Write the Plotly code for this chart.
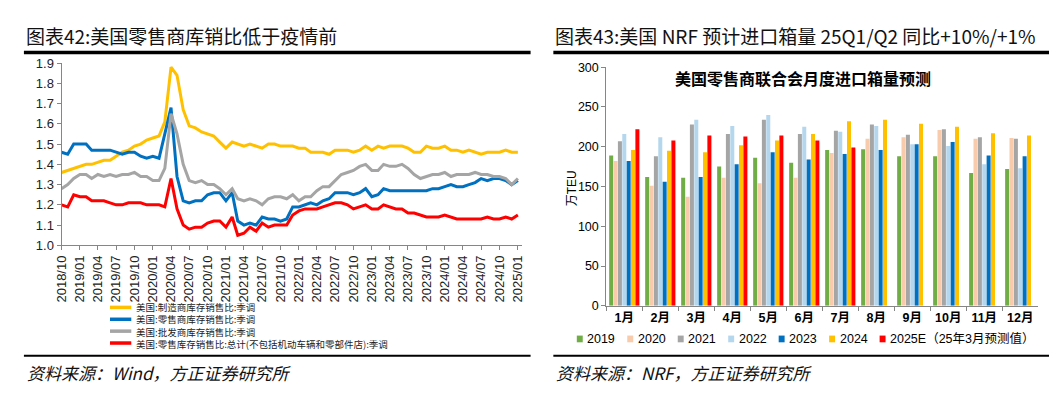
import plotly.graph_objects as go
import pandas as pd

W, H = 1057, 393

# ---------------- Left chart data (monthly, 2018/10 - 2025/01) ----------------
start_month = "2018-10-01"
manufacturing = [1.36, 1.37, 1.38, 1.39, 1.40, 1.40, 1.41, 1.42, 1.42, 1.44, 1.46, 1.47, 1.49, 1.50, 1.52, 1.53,
                 1.54, 1.61, 1.88, 1.84, 1.67, 1.59, 1.58, 1.56, 1.55, 1.54, 1.51, 1.48, 1.51, 1.50, 1.49, 1.50,
                 1.49, 1.48, 1.50, 1.50, 1.49, 1.49, 1.49, 1.48, 1.48, 1.46, 1.46, 1.46, 1.45, 1.47, 1.47, 1.47,
                 1.46, 1.47, 1.49, 1.47, 1.49, 1.48, 1.49, 1.49, 1.49, 1.48, 1.46, 1.46, 1.49, 1.48, 1.48, 1.49,
                 1.47, 1.47, 1.46, 1.47, 1.46, 1.45, 1.46, 1.46, 1.46, 1.47, 1.46, 1.46]
retail = [1.46, 1.45, 1.50, 1.50, 1.50, 1.47, 1.47, 1.47, 1.47, 1.46, 1.45, 1.46, 1.46, 1.44, 1.43, 1.44,
          1.43, 1.55, 1.68, 1.34, 1.22, 1.21, 1.22, 1.22, 1.25, 1.26, 1.26, 1.22, 1.26, 1.12, 1.10, 1.11,
          1.10, 1.14, 1.13, 1.13, 1.12, 1.13, 1.19, 1.19, 1.20, 1.21, 1.20, 1.22, 1.23, 1.26, 1.26, 1.26,
          1.25, 1.26, 1.28, 1.24, 1.25, 1.28, 1.27, 1.27, 1.27, 1.27, 1.27, 1.27, 1.27, 1.28, 1.28, 1.29,
          1.30, 1.29, 1.29, 1.30, 1.31, 1.33, 1.32, 1.33, 1.33, 1.32, 1.30, 1.32]
wholesale = [1.28, 1.30, 1.33, 1.35, 1.35, 1.33, 1.35, 1.34, 1.35, 1.34, 1.35, 1.35, 1.36, 1.34, 1.34, 1.32,
             1.32, 1.38, 1.65, 1.55, 1.40, 1.32, 1.31, 1.32, 1.30, 1.30, 1.28, 1.25, 1.28, 1.23, 1.22, 1.23,
             1.22, 1.20, 1.23, 1.24, 1.24, 1.23, 1.25, 1.22, 1.24, 1.24, 1.27, 1.29, 1.29, 1.32, 1.35, 1.36,
             1.37, 1.39, 1.40, 1.37, 1.37, 1.40, 1.39, 1.39, 1.40, 1.38, 1.35, 1.33, 1.34, 1.35, 1.35, 1.36,
             1.34, 1.35, 1.35, 1.35, 1.36, 1.35, 1.35, 1.34, 1.34, 1.33, 1.30, 1.33]
retail_total = [1.20, 1.19, 1.25, 1.24, 1.24, 1.22, 1.22, 1.22, 1.21, 1.20, 1.20, 1.21, 1.21, 1.21, 1.20, 1.20,
                1.20, 1.19, 1.33, 1.18, 1.10, 1.08, 1.09, 1.09, 1.11, 1.12, 1.12, 1.09, 1.14, 1.05, 1.06, 1.09,
                1.07, 1.11, 1.09, 1.10, 1.10, 1.10, 1.15, 1.17, 1.18, 1.18, 1.18, 1.19, 1.20, 1.21, 1.21, 1.20,
                1.18, 1.19, 1.20, 1.18, 1.18, 1.20, 1.19, 1.18, 1.18, 1.16, 1.16, 1.15, 1.14, 1.14, 1.14, 1.15,
                1.14, 1.13, 1.13, 1.13, 1.13, 1.13, 1.14, 1.13, 1.13, 1.14, 1.13, 1.15]
left_names = ["美国:制造商库存销售比:季调", "美国:零售商库存销售比:季调", "美国:批发商库存销售比:季调",
              "美国:零售库存销售比:总计(不包括机动车辆和零部件店):季调"]
left_colors = ["#FFC000", "#0070C0", "#A5A5A5", "#FF0000"]
left_ticklabels = ["2018/10", "2019/01", "2019/04", "2019/07", "2019/10", "2020/01", "2020/04", "2020/07",
                   "2020/10", "2021/01", "2021/04", "2021/07", "2021/10", "2022/01", "2022/04", "2022/07",
                   "2022/10", "2023/01", "2023/04", "2023/07", "2023/10", "2024/01", "2024/04", "2024/07",
                   "2024/10", "2025/01"]
left_yticks = [1.0, 1.1, 1.2, 1.3, 1.4, 1.5, 1.6, 1.7, 1.8, 1.9]

# ---------------- Right chart data ----------------
months_cn = ["1月", "2月", "3月", "4月", "5月", "6月", "7月", "8月", "9月", "10月", "11月", "12月"]
bar_names = ["2019", "2020", "2021", "2022", "2023", "2024", "2025E（25年3月预测值）"]
bar_colors = ["#70AD47", "#F8CBAD", "#A5A5A5", "#B4D7EE", "#0070C0", "#FFC000", "#FF0000"]
v2019 = [189, 162, 161, 175, 186, 180, 196, 197, 188, 188, 167, 172]
v2020 = [182, 151, 137, 161, 154, 161, 192, 210, 212, 221, 210, 211]
v2021 = [207, 188, 228, 216, 234, 216, 220, 228, 215, 222, 212, 210]
v2022 = [216, 212, 234, 226, 240, 225, 219, 226, 203, 201, 178, 173]
v2023 = [182, 156, 162, 178, 193, 184, 191, 196, 203, 206, 189, 188]
v2024 = [196, 195, 193, 202, 208, 216, 232, 234, 229, 225, 217, 214]
v2025e = [222, 208, 214, 213, 214, 208, 199, None, None, None, None, None]
bar_values = [v2019, v2020, v2021, v2022, v2023, v2024, v2025e]
right_yticks = [0, 50, 100, 150, 200, 250, 300]

LAT = "Liberation Sans, Arial, Noto Sans CJK SC"
CJK = "Noto Sans CJK SC"


def px(x):
    return x / W


def py(y):
    return 1 - y / H


fig = go.Figure()

dates = pd.date_range(start_month, periods=len(retail), freq="MS")
for name, color, vals in zip(left_names, left_colors, [manufacturing, retail, wholesale, retail_total]):
    fig.add_trace(go.Scatter(x=dates, y=vals, mode="lines", name=name,
                             line=dict(color=color, width=3), xaxis="x", yaxis="y",
                             showlegend=False))

for name, color, vals in zip(bar_names, bar_colors, bar_values):
    fig.add_trace(go.Bar(x=months_cn, y=vals, name=name, marker=dict(color=color, line=dict(width=0)),
                         xaxis="x2", yaxis="y2", showlegend=False))

left_tickvals = [pd.Timestamp(t.replace("/", "-") + "-01") for t in left_ticklabels]

axis_grey = "#868686"
fig.update_layout(
    width=W, height=H,
    margin=dict(l=0, r=0, t=0, b=0),
    paper_bgcolor="white", plot_bgcolor="white",
    barmode="group", bargap=0.15, bargroupgap=0.08,
    xaxis=dict(domain=[px(46), px(511)], type="date",
               range=[pd.Timestamp("2018-10-01"), pd.Timestamp("2025-01-20")],
               tickvals=left_tickvals, ticktext=left_ticklabels, tickangle=-90,
               showline=True, linecolor=axis_grey, linewidth=1, ticks="outside", ticklen=4,
               tickcolor=axis_grey, showgrid=False, zeroline=False,
               tickfont=dict(family=LAT, size=13, color="#222")),
    yaxis=dict(domain=[py(239.5), py(50)], range=[1.0, 1.9], tickvals=left_yticks,
               tickformat=".1f", showline=True, linecolor=axis_grey, linewidth=1,
               ticks="outside", ticklen=4, tickcolor=axis_grey, showgrid=False, zeroline=False,
               tickfont=dict(family=LAT, size=13, color="#222")),
    xaxis2=dict(domain=[px(596.5), px(1033)], type="category", tickson="boundaries",
                showline=True, linecolor=axis_grey, linewidth=1, ticks="outside", ticklen=4,
                tickcolor=axis_grey, showgrid=False, zeroline=False,
                tickfont=dict(family=LAT, size=12.5, color="black", weight="bold"),
                anchor="y2"),
    yaxis2=dict(domain=[py(302.3), py(54.3)], range=[0, 300], tickvals=right_yticks,
                showline=True, linecolor=axis_grey, linewidth=1, ticks="outside", ticklen=4,
                tickcolor=axis_grey, showgrid=False, zeroline=False,
                tickfont=dict(family=LAT, size=12.5, color="black"), anchor="x2"),
)

shapes = []
annotations = []

# header titles and rules
headers = [("图表42:美国零售商库销比低于疫情前", 8, 8, 520),
           ("图表43:美国 NRF 预计进口箱量 25Q1/Q2 同比+10%/+1%", 543, 543, 1046)]
for text, tx, lx0, lx1 in headers:
    annotations.append(dict(text=text, xref="paper", yref="paper", x=px(tx), y=py(21),
                            xanchor="left", yanchor="middle", showarrow=False,
                            font=dict(family=CJK, size=19, color="#111")))
    shapes.append(dict(type="line", xref="paper", yref="paper", x0=px(lx0), x1=px(lx1),
                       y0=py(39), y1=py(39), line=dict(color="black", width=3.5)))
    shapes.append(dict(type="line", xref="paper", yref="paper", x0=px(lx0), x1=px(lx1),
                       y0=py(354.3), y1=py(354.3), line=dict(color="black", width=2)))

sources = [("资料来源：Wind，方正证券研究所", 9), ("资料来源：NRF，方正证券研究所", 544)]
for text, sx in sources:
    annotations.append(dict(text=text, xref="paper", yref="paper", x=px(sx), y=py(372),
                            xanchor="left", yanchor="middle", showarrow=False,
                            font=dict(family=CJK, size=17, color="#111", style="italic")))

# left legend (vertical): one text block, line samples beside each row
leg_font = 9.5
leg_step = leg_font * 1.3
leg_top = 304.0
for i, color in enumerate(left_colors):
    yy = leg_top + i * leg_step
    shapes.append(dict(type="line", xref="paper", yref="paper", x0=px(95), x1=px(116.5),
                       y0=py(yy), y1=py(yy), line=dict(color=color, width=3.5)))
leg_mid = leg_top + 1.5 * leg_step
annotations.append(dict(text="<br>".join(left_names), xref="paper", yref="paper", x=px(119),
                        y=py(leg_mid), xanchor="left", yanchor="middle", align="left",
                        showarrow=False, font=dict(family=CJK, size=leg_font, color="#222")))

# right legend (horizontal)
for i, (name, color) in enumerate(zip(bar_names, bar_colors)):
    cx = 569.7 + i * 51.0
    shapes.append(dict(type="rect", xref="paper", yref="paper", x0=px(cx - 3), x1=px(cx + 3),
                       y0=py(340.3), y1=py(333.3), line=dict(width=0), fillcolor=color))
    annotations.append(dict(text=name, xref="paper", yref="paper", x=px(cx + 5.5), y=py(336.8),
                            xanchor="left", yanchor="middle", showarrow=False,
                            font=dict(family=LAT, size=12.5, color="black")))

# right inner title and y-axis label
annotations.append(dict(text="美国零售商联合会月度进口箱量预测", xref="paper", yref="paper",
                        x=px(795), y=py(66), xanchor="center", yanchor="middle", showarrow=False,
                        font=dict(family=CJK, size=16, color="black", weight="bold")))
annotations.append(dict(text="万TEU", xref="paper", yref="paper", x=px(562), y=py(180),
                        xanchor="center", yanchor="middle", showarrow=False, textangle=-90,
                        font=dict(family=LAT, size=12, color="black")))

fig.update_layout(shapes=shapes, annotations=annotations)

fig.write_html("out.html")
